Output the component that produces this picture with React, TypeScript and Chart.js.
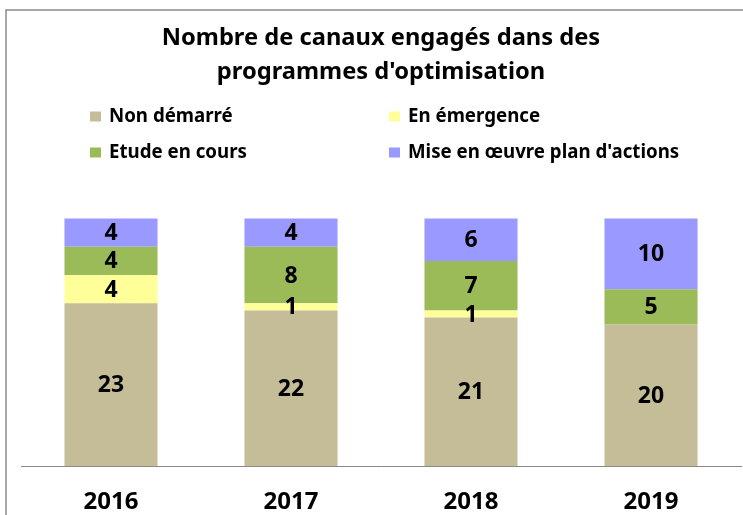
import React, { useEffect, useRef } from "react";
import { Chart, registerables } from "chart.js";

Chart.register(...registerables);

const years = ["2016", "2017", "2018", "2019"];
const nonDemarre = [23, 22, 21, 20];
const enEmergence = [4, 1, 1, 0];
const etudeEnCours = [4, 8, 7, 5];
const miseEnOeuvre = [4, 4, 6, 10];
const titleLines = ["Nombre de canaux engagés dans des", "programmes d'optimisation"];
const seriesLabels = ["Non démarré", "En émergence", "Etude en cours", "Mise en œuvre plan d'actions"];
const seriesColors = ["#C4BD97", "#FFFF99", "#9BBB59", "#9999FF"];

const FONT = '"Noto Sans", sans-serif';

const framePlugin = {
  id: "frame",
  beforeDraw(chart: any) {
    const ctx = chart.ctx;
    ctx.save();
    ctx.strokeStyle = "#8c8c8c";
    ctx.lineWidth = 1.5;
    ctx.beginPath();
    ctx.moveTo(6, chart.height + 5);
    ctx.lineTo(6, 10);
    ctx.lineTo(chart.width + 5, 10);
    ctx.stroke();
    ctx.restore();
  },
};

const legendPlugin = {
  id: "gridLegend",
  afterDraw(chart: any) {
    const ctx = chart.ctx;
    const cols = [90, 389];
    const rows = [116.5, 152.5];
    ctx.save();
    ctx.font = `bold 18.7px ${FONT}`;
    ctx.textBaseline = "middle";
    ctx.textAlign = "left";
    chart.data.datasets.forEach((ds: any, i: number) => {
      const x = cols[i % 2];
      const y = rows[Math.floor(i / 2)];
      ctx.fillStyle = ds.backgroundColor;
      ctx.fillRect(x, y - 5, 11, 10);
      ctx.fillStyle = "#000";
      ctx.fillText(ds.label, x + 19, y);
    });
    ctx.restore();
  },
};

const valueLabelPlugin = {
  id: "valueLabels",
  afterDatasetsDraw(chart: any) {
    const ctx = chart.ctx;
    ctx.save();
    ctx.font = `bold 23px ${FONT}`;
    ctx.textAlign = "center";
    ctx.textBaseline = "middle";
    ctx.fillStyle = "#000";
    chart.data.datasets.forEach((ds: any, di: number) => {
      const meta = chart.getDatasetMeta(di);
      meta.data.forEach((bar: any, i: number) => {
        const v = ds.data[i];
        if (!v) return;
        const cy = (bar.y + bar.base) / 2;
        ctx.fillText(String(v), bar.x, cy + 1);
      });
    });
    ctx.restore();
  },
};

export default function App() {
  const ref = useRef<HTMLCanvasElement>(null);
  useEffect(() => {
    if (!ref.current) return;
    const data = [nonDemarre, enEmergence, etudeEnCours, miseEnOeuvre];
    const chart = new Chart(ref.current, {
      type: "bar",
      data: {
        labels: years,
        datasets: data.map((d, i) => ({
          label: seriesLabels[i],
          data: d,
          backgroundColor: seriesColors[i],
          borderWidth: 0,
          categoryPercentage: 1,
          barPercentage: 0.517,
        })),
      },
      options: {
        responsive: false,
        animation: false,
        layout: { padding: { left: 21, right: 2, top: 0, bottom: -24 } },
        plugins: {
          legend: { display: false },
          tooltip: { enabled: false },
          title: {
            display: true,
            text: titleLines,
            color: "#000",
            font: { family: FONT, size: 23.7, weight: "bold", lineHeight: 34 / 23.7 },
            padding: { top: 21, bottom: 94 },
          },
        },
        scales: {
          x: {
            stacked: true,
            grid: { display: false, drawTicks: false },
            border: { display: true, color: "#888", width: 1 },
            ticks: {
              color: "#000",
              padding: 22,
              font: { family: FONT, size: 24, weight: "bold", lineHeight: 1.2 },
            },
          },
          y: {
            stacked: true,
            display: false,
            min: 0,
            max: 40,
          },
        },
      },
      plugins: [framePlugin, legendPlugin, valueLabelPlugin],
    });
    return () => chart.destroy();
  }, []);
  return (
    <canvas
      ref={ref}
      width={743}
      height={515}
      style={{ position: "fixed", left: 0, top: 0, display: "block", background: "#fff" }}
    />
  );
}
